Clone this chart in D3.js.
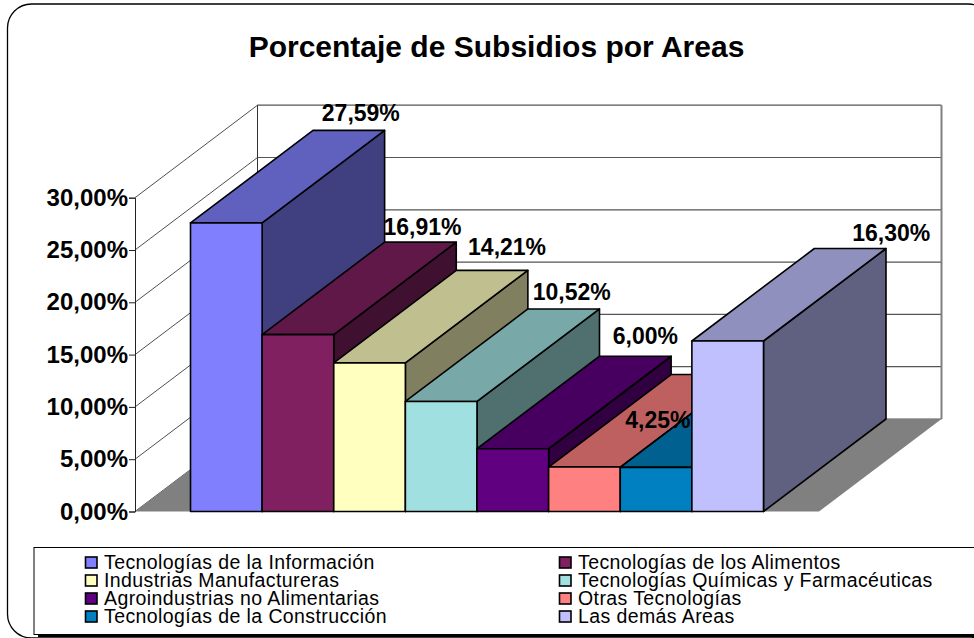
<!DOCTYPE html>
<html>
<head>
<meta charset="utf-8">
<script src="https://d3js.org/d3.v7.min.js"></script>
<style>
    html, body { margin: 0; padding: 0; background: #fff; overflow: hidden; }
    svg { display: block; }
    text { font-family: "Liberation Sans", Arial, sans-serif; fill: #000; }
</style>
</head>
<body>
<svg id="chart" width="974" height="638"></svg>
<script>
var categories = [
    "Tecnologías de la Información", "Tecnologías de los Alimentos",
    "Industrias Manufactureras", "Tecnologías Químicas y Farmacéuticas",
    "Agroindustrias no Alimentarias", "Otras Tecnologías",
    "Tecnologías de la Construcción", "Las demás Areas"
];
var values = [27.59, 16.91, 14.21, 10.52, 6.00, 4.25, 4.22, 16.30];
var colors = ["#8080ff", "#802060", "#ffffc0", "#a0e0e0", "#600080", "#ff8080", "#0080c0", "#c0c0ff"];
var yTicks = [0, 5, 10, 15, 20, 25, 30];
// hand placed data labels in the original, offset from the back edge of each bar
var labelDx = [12, 2, 15, 8, 10, -49, 0, 41];
var labelDy = [-9, -7, -15, -9, -12, 53, -8, -8];

var svg = d3.select("#chart");
var fmt = function (v) { return v.toFixed(2).replace(".", ",") + "%"; };

var depthX = 122.5, depthY = -92.5;
var y = d3.scaleLinear().domain([0, 30]).range([511.5, 197.7]);
var x = d3.scaleBand().domain(categories).range([190.5, 763.5]);
var floorLeft = 135, floorRight = 819;

function poly(points) { return points.map(function (p) { return p.join(","); }).join(" "); }

// outer frame, runs off the right edge
svg.append("rect")
    .attr("x", 7.5).attr("y", 4)
    .attr("width", 985).attr("height", 634)
    .attr("rx", 24).attr("ry", 24)
    .attr("fill", "#fff").attr("stroke", "#000").attr("stroke-width", 1.3);

svg.append("text")
    .attr("x", 496.5).attr("y", 56.5)
    .attr("text-anchor", "middle")
    .attr("font-size", 30).attr("font-weight", "bold")
    .text("Porcentaje de Subsidios por Areas");

// walls
var walls = svg.append("g");
walls.selectAll(".backgrid")
    .data(yTicks)
    .enter()
    .append("line")
    .classed("backgrid", true)
    .attr("x1", floorLeft + depthX).attr("x2", floorRight + depthX)
    .attr("y1", function (d) { return y(d) + depthY; })
    .attr("y2", function (d) { return y(d) + depthY; })
    .attr("stroke", "#555").attr("stroke-width", 1.2);
walls.selectAll(".sidegrid")
    .data(yTicks)
    .enter()
    .append("line")
    .classed("sidegrid", true)
    .attr("x1", floorLeft).attr("x2", floorLeft + depthX)
    .attr("y1", function (d) { return y(d); })
    .attr("y2", function (d) { return y(d) + depthY; })
    .attr("stroke", "#222").attr("stroke-width", 0.8);
walls.append("line")
    .attr("x1", floorLeft + depthX).attr("x2", floorLeft + depthX)
    .attr("y1", y(30) + depthY).attr("y2", y(0) + depthY)
    .attr("stroke", "#333").attr("stroke-width", 1);
walls.append("line")
    .attr("x1", floorRight + depthX).attr("x2", floorRight + depthX)
    .attr("y1", y(30) + depthY).attr("y2", y(0) + depthY)
    .attr("stroke", "#808080").attr("stroke-width", 2);
walls.append("polygon")
    .attr("points", poly([
        [floorLeft, y(0)], [floorLeft + depthX, y(0) + depthY],
        [floorRight + depthX, y(0) + depthY], [floorRight, y(0)]
    ]))
    .attr("fill", "#808080");

// y axis
var axis = svg.append("g")
    .attr("transform", "translate(" + floorLeft + ",0)")
    .call(d3.axisLeft(y).tickValues(yTicks).tickFormat(fmt).tickSize(6).tickPadding(1));
axis.selectAll("text")
    .attr("font-size", 24).attr("font-weight", "bold")
    .style("font-family", '"Liberation Sans", Arial, sans-serif');
axis.selectAll("line, path").attr("stroke", "#222").attr("stroke-width", 1);

function drawBar(parent, name, i) {
    var x0 = x(name), x1 = x0 + x.bandwidth();
    var top = y(values[i]), base = y(0);
    var g = parent.append("g").classed("bar", true);
    var c = d3.rgb(colors[i]);
    var topColor = d3.rgb(c.r * 0.75, c.g * 0.75, c.b * 0.75);
    var sideColor = d3.rgb(c.r * 0.5, c.g * 0.5, c.b * 0.5);
    g.append("polygon")
        .attr("points", poly([[x1, top], [x1 + depthX, top + depthY], [x1 + depthX, base + depthY], [x1, base]]))
        .attr("fill", sideColor);
    g.append("polygon")
        .attr("points", poly([[x0, top], [x0 + depthX, top + depthY], [x1 + depthX, top + depthY], [x1, top]]))
        .attr("fill", topColor);
    g.append("rect")
        .attr("x", x0).attr("y", top)
        .attr("width", x.bandwidth()).attr("height", base - top)
        .attr("fill", c);
    g.selectAll("polygon, rect")
        .attr("stroke", "#000").attr("stroke-width", 1.6).attr("stroke-linejoin", "round");
}

var bars = svg.append("g");
var lastIndex = categories.length - 1;
categories.forEach(function (name, i) {
    if (i < lastIndex) { drawBar(bars, name, i); }
});

// labels go under the last bar, it hides the label of the bar before it
svg.append("g").selectAll("text")
    .data(categories)
    .enter()
    .append("text")
    .attr("x", function (d, i) { return x(d) + x.bandwidth() / 2 + depthX + labelDx[i]; })
    .attr("y", function (d, i) { return y(values[i]) + depthY + labelDy[i]; })
    .attr("text-anchor", "middle")
    .attr("font-size", 23).attr("font-weight", "bold")
    .text(function (d, i) { return fmt(values[i]); });

drawBar(svg.append("g"), categories[lastIndex], lastIndex);

// legend box, also cut by the right edge
svg.append("rect")
    .attr("x", 38).attr("y", 551).attr("width", 960).attr("height", 86).attr("fill", "#000");
svg.append("rect")
    .attr("x", 34).attr("y", 547.5).attr("width", 960).attr("height", 87)
    .attr("fill", "#fff").attr("stroke", "#000").attr("stroke-width", 1);

var legendCol = d3.scaleOrdinal().domain([0, 1]).range([85, 559]);
var legendRow = d3.scaleLinear().domain([0, 3]).range([562.5, 616.5]);
var legend = svg.append("g").selectAll("g")
    .data(categories)
    .enter()
    .append("g")
    .attr("transform", function (d, i) {
        return "translate(" + legendCol(i % 2) + "," + legendRow(Math.floor(i / 2)) + ")";
    });
legend.append("rect")
    .attr("x", 0.5).attr("y", -5.5)
    .attr("width", 11.5).attr("height", 11)
    .attr("fill", function (d, i) { return colors[i]; })
    .attr("stroke", "#000").attr("stroke-width", 1.6);
legend.append("text")
    .attr("x", 19).attr("y", 6)
    .attr("font-size", 19.5)
    .attr("letter-spacing", 0.4)
    .text(function (d) { return d; });
</script>
</body>
</html>
